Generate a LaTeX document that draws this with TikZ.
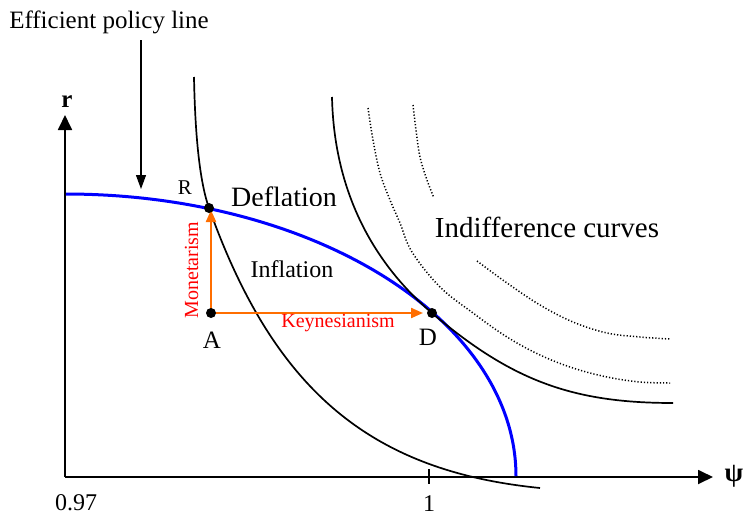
\documentclass[tikz,border=0pt]{standalone}
\usepackage{fontspec}
\setmainfont{Liberation Serif}
\usetikzlibrary{arrows.meta}
\definecolor{movecol}{RGB}{255,110,0}
\definecolor{lblred}{RGB}{255,0,0}
\newcommand\myfs[1]{\fontsize{#1}{#1}\selectfont}
\tikzset{
  axisline/.style={line width=1.8pt,-{Triangle[length=15pt,width=14pt]}},
  curveline/.style={line width=1.7pt},
  dotline/.style={line width=1.5pt,dash pattern=on 1.2pt off 2pt},
  policy/.style={blue,line width=3pt},
  moveline/.style={movecol,line width=2.2pt,-{Triangle[length=12pt,width=10pt]}},
  pointer/.style={line width=1.1pt,-{Triangle[length=14pt,width=10pt]}},
  dotnode/.style={circle,fill=black,inner sep=0pt,minimum size=10pt},
  txt/.style={inner sep=0pt,anchor=base},
}
\begin{document}
\begin{tikzpicture}[x=1pt,y=-1pt]
\useasboundingbox (0,0) rectangle (745,517);
% axes
\coordinate (O) at (65,477);
\coordinate (ytop) at (65,115);
\coordinate (xend) at (713,477);
\draw[axisline] (O) -- (ytop);
\draw[axisline] (O) -- (xend);
\coordinate (tk1) at (429,469);
\coordinate (tk2) at (429,484);
\draw[line width=1.1pt] (tk1) -- (tk2);
\node[txt] (rl) at (67,107) {\myfs{25}\bfseries r};
\node[inner sep=0pt] (psil) at (734,476) {\myfs{27}\bfseries ψ};
\node[txt] (l097) at (76,510) {\myfs{24}0.97};
\node[txt] (l1) at (429,511) {\myfs{24}1};
% efficient policy line label and pointer
\node[txt] (epl) at (109,28) {\myfs{25}Efficient policy line};
\coordinate (eplS) at (141,40);
\coordinate (eplE) at (141,189);
\draw[pointer] (eplS) -- (eplE);
% blue efficient policy line
\draw[policy] plot[domain=0:90,samples=120] ({66+450*cos(\x)},{476-282*sin(\x)});
% points
\coordinate (a) at (211,313);
\coordinate (r) at (209,208);
\coordinate (d) at (432,313);
% indifference curves
\coordinate (c1s) at (194,77);
\coordinate (c1e) at (540,488);
\draw[curveline] (c1s) .. controls (195,130) and (199,180) .. (r)
  .. controls (274,390) and (370,471) .. (c1e);
\coordinate (c2s) at (332,97);
\coordinate (c2e) at (673,403);
\draw[curveline] (c2s) .. controls (334,190) and (372,262) .. (d)
  .. controls (512,381) and (573,403) .. (c2e);
\draw[dotline] plot[smooth,tension=0.6] coordinates {(368,108) (373,140) (380,173) (390,200) (400,223) (412,252) (440,287) (473,313) (507,337) (540,355) (573,368) (607,377) (640,382) (670,383)};
\draw[dotline] plot[smooth,tension=0.6] coordinates {(413,105) (416,130) (420,157) (427,180) (434,198)};
\draw[dotline] plot[smooth,tension=0.6] coordinates {(477,261) (507,283) (540,305) (573,322) (607,333) (640,337) (670,339)};
% moves
\draw[moveline,shorten >=2pt] (a) -- (a |- r);
\draw[moveline,shorten >=9pt] (a) -- (d);
\node[dotnode] (A) at (a) {};
\node[dotnode] (R) at (r) {};
\node[dotnode] (D) at (d) {};
% labels
\node[txt] (Rl) at (185,194) {\myfs{21}R};
\node[txt] (Al) at (212,348) {\myfs{25}A};
\node[txt] (Dl) at (428,345) {\myfs{25}D};
\begin{scope}
\clip (220,170) rectangle (360,205.5);
\node[txt] (defl) at (284,206) {\myfs{28}Deflation};
\end{scope}
\node[txt] (infl) at (292,277) {\myfs{24}Inflation};
\node[txt] (indc) at (547,237) {\myfs{29}Indifference curves};
\node[txt,text=lblred] (keyn) at (338,327) {\myfs{20}Keynesianism};
\node[txt,text=lblred,rotate=90] (mone) at (198,270) {\myfs{20}Monetarism};
\end{tikzpicture}
\end{document}
